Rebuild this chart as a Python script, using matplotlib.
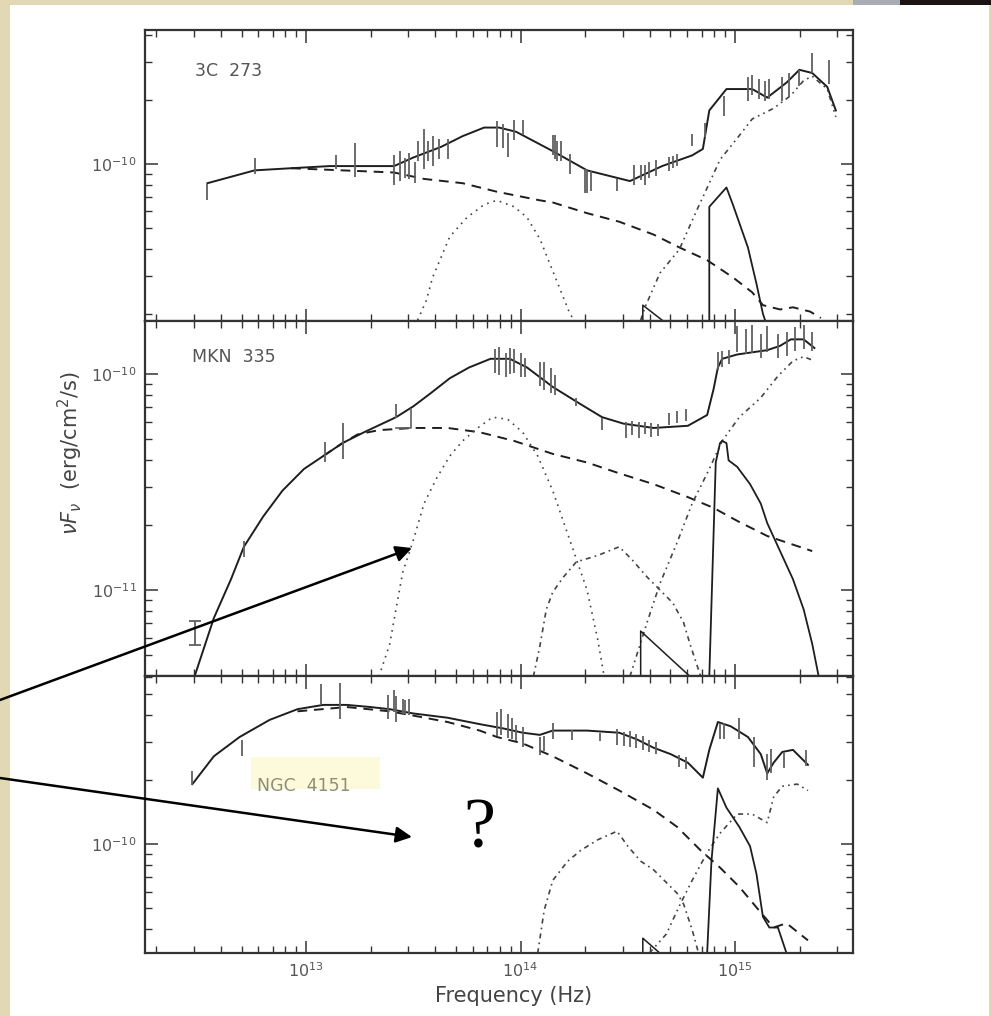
import numpy as np
import matplotlib.pyplot as plt
from matplotlib.patches import Rectangle, FancyArrowPatch
from matplotlib.ticker import FixedLocator, NullFormatter

plt.rcParams['mathtext.default'] = 'regular'

# all values are log10(nu / Hz) and log10(nuF_nu / erg cm^-2 s^-1)

# ---- 3C 273 ----
tot_x1 = [12.54, 12.76, 12.93, 13.11, 13.41, 13.50, 13.63, 13.73, 13.83, 13.90, 13.98, 14.15, 14.31,
          14.51, 14.66, 14.80, 14.85, 14.88, 14.96, 15.08, 15.15, 15.24, 15.30, 15.36, 15.43, 15.47]
tot_y1 = [-10.09, -10.03, -10.02, -10.01, -10.01, -9.97, -9.92, -9.87, -9.83, -9.83, -9.85, -9.94, -10.03,
          -10.08, -10.01, -9.96, -9.93, -9.75, -9.65, -9.65, -9.69, -9.62, -9.56, -9.575, -9.64, -9.75]
dash_x1 = [12.93, 13.41, 13.55, 13.73, 13.89, 14.09, 14.15, 14.31, 14.46, 14.62, 14.74, 14.87, 14.99,
           15.08, 15.13, 15.21, 15.27, 15.35, 15.40]
dash_y1 = [-10.02, -10.04, -10.07, -10.09, -10.13, -10.17, -10.18, -10.23, -10.27, -10.33, -10.39, -10.45,
           -10.53, -10.60, -10.66, -10.68, -10.67, -10.69, -10.72]
dot_x1 = [13.52, 13.56, 13.59, 13.67, 13.75, 13.83, 13.89, 13.97, 14.03, 14.09, 14.15, 14.23, 14.25]
dot_y1 = [-10.73, -10.64, -10.53, -10.34, -10.25, -10.19, -10.17, -10.20, -10.25, -10.35, -10.50, -10.70, -10.73]
dd2_x1 = [14.56, 14.58, 14.65, 14.74, 14.82, 14.88, 14.93, 15.01, 15.08, 15.18, 15.26, 15.32, 15.36, 15.43, 15.47]
dd2_y1 = [-10.73, -10.67, -10.51, -10.40, -10.22, -10.09, -9.98, -9.88, -9.79, -9.74, -9.68, -9.61, -9.59,
          -9.65, -9.78]
bal_x1 = [14.88, 14.88, 14.96, 14.99, 15.06, 15.10, 15.13, 15.14]
bal_y1 = [-10.73, -10.20, -10.11, -10.19, -10.39, -10.56, -10.70, -10.73]
tri_x1 = [14.57, 14.57, 14.66]
tri_y1 = [-10.73, -10.66, -10.73]
pt_x1 = [12.54, 12.76, 13.14, 13.23, 13.41, 13.44, 13.46, 13.48, 13.51, 13.52, 13.55, 13.57, 13.59, 13.62,
         13.66, 13.89, 13.92, 13.94, 13.97, 14.01, 14.15, 14.16, 14.17, 14.19, 14.23, 14.30, 14.31, 14.33,
         14.45, 14.53, 14.56, 14.58, 14.60, 14.63, 14.69, 14.71, 14.73, 14.80, 14.86, 14.95, 15.06, 15.08,
         15.11, 15.14, 15.16, 15.22, 15.25, 15.30, 15.36, 15.44]
pt_y1 = [-10.13, -10.01, -9.99, -9.98, -10.03, -10.01, -10.02, -10.01, -10.04, -9.94, -9.93, -9.94, -9.94,
         -9.93, -9.93, -9.86, -9.87, -9.91, -9.84, -9.83, -9.91, -9.92, -9.94, -9.94, -10.00, -10.08, -10.08,
         -10.08, -10.10, -10.05, -10.04, -10.05, -10.03, -10.02, -10.00, -9.99, -9.98, -9.89, -9.84, -9.73,
         -9.65, -9.63, -9.65, -9.66, -9.65, -9.65, -9.63, -9.60, -9.53, -9.57]
pt_e1 = [0.037, 0.037, 0.033, 0.079, 0.070, 0.070, 0.047, 0.061, 0.047, 0.047, 0.093, 0.047, 0.070, 0.047,
         0.047, 0.061, 0.056, 0.056, 0.047, 0.037, 0.047, 0.056, 0.047, 0.047, 0.047, 0.056, 0.056, 0.047,
         0.028, 0.047, 0.037, 0.047, 0.037, 0.037, 0.033, 0.028, 0.028, 0.028, 0.033, 0.047, 0.056, 0.047,
         0.047, 0.047, 0.047, 0.056, 0.056, 0.037, 0.047, 0.056]

# ---- MKN 335 ----
tot_x2 = [12.48, 12.57, 12.65, 12.71, 12.80, 12.89, 12.99, 13.08, 13.17, 13.27, 13.42, 13.50, 13.58, 13.67,
          13.76, 13.86, 13.95, 14.03, 14.15, 14.28, 14.38, 14.48, 14.62, 14.78, 14.87, 14.90, 14.92, 14.94,
          15.01, 15.15, 15.21, 15.26, 15.32, 15.37]
tot_y2 = [-11.40, -11.13, -10.95, -10.80, -10.66, -10.54, -10.44, -10.38, -10.32, -10.27, -10.20, -10.15,
          -10.09, -10.02, -9.97, -9.93, -9.93, -9.97, -10.06, -10.14, -10.20, -10.23, -10.25, -10.24, -10.19,
          -10.07, -9.97, -9.93, -9.91, -9.89, -9.87, -9.84, -9.84, -9.88]
dash_x2 = [13.08, 13.17, 13.24, 13.34, 13.50, 13.66, 13.81, 13.97, 14.00, 14.15, 14.31, 14.46, 14.62, 14.78,
           14.90, 15.01, 15.15, 15.36]
dash_y2 = [-10.38, -10.32, -10.28, -10.26, -10.25, -10.25, -10.27, -10.31, -10.32, -10.37, -10.41, -10.46,
           -10.51, -10.57, -10.62, -10.68, -10.75, -10.82]
dot_x2 = [13.34, 13.39, 13.45, 13.50, 13.55, 13.61, 13.67, 13.73, 13.80, 13.87, 13.94, 14.01, 14.08, 14.15,
          14.23, 14.31, 14.36, 14.39]
dot_y2 = [-11.40, -11.25, -10.92, -10.77, -10.60, -10.48, -10.38, -10.31, -10.25, -10.20, -10.21, -10.27,
          -10.38, -10.54, -10.77, -11.00, -11.23, -11.40]
dd1_x2 = [14.06, 14.09, 14.12, 14.15, 14.20, 14.26, 14.36, 14.46, 14.52, 14.59, 14.65, 14.71, 14.76, 14.79, 14.84]
dd1_y2 = [-11.40, -11.26, -11.09, -11.01, -10.94, -10.87, -10.84, -10.80, -10.86, -10.94, -11.00, -11.06,
          -11.15, -11.25, -11.40]
dd2_x2 = [14.51, 14.59, 14.65, 14.73, 14.80, 14.88, 14.94, 15.02, 15.12, 15.20, 15.27, 15.32, 15.37]
dd2_y2 = [-11.40, -11.15, -10.97, -10.78, -10.60, -10.44, -10.31, -10.20, -10.11, -10.01, -9.94, -9.92, -9.94]
bal_x2 = [14.88, 14.91, 14.93, 14.94, 14.96, 14.97, 15.01, 15.07, 15.12, 15.15, 15.21, 15.27, 15.32, 15.36, 15.39]
bal_y2 = [-11.40, -10.41, -10.32, -10.31, -10.32, -10.40, -10.43, -10.51, -10.60, -10.69, -10.82, -10.95,
          -11.09, -11.25, -11.40]
tri_x2 = [14.56, 14.56, 14.79]
tri_y2 = [-11.40, -11.19, -11.40]
brk_x2 = [13.42, 13.49, 13.49]
brk_y2 = [-10.25, -10.25, -10.16]
cap_x2 = [12.48]
cap_y2 = [-11.20]
cap_e2 = [0.056]
pt_x2 = [12.71, 13.09, 13.17, 13.42, 13.88, 13.90, 13.93, 13.95, 13.97, 14.00, 14.02, 14.09, 14.11, 14.14,
         14.16, 14.26, 14.38, 14.49, 14.52, 14.55, 14.58, 14.61, 14.64, 14.69, 14.73, 14.77, 14.92, 14.94,
         14.97, 15.01, 15.05, 15.08, 15.12, 15.15, 15.20, 15.24, 15.28, 15.32, 15.36]
pt_y2 = [-10.81, -10.36, -10.31, -10.17, -9.94, -9.94, -9.96, -9.94, -9.94, -9.96, -9.97, -10.00, -10.01,
         -10.03, -10.05, -10.13, -10.23, -10.26, -10.25, -10.26, -10.25, -10.26, -10.26, -10.21, -10.20,
         -10.19, -9.94, -9.93, -9.92, -9.84, -9.85, -9.84, -9.87, -9.84, -9.87, -9.86, -9.84, -9.83, -9.85]
pt_e2 = [0.037, 0.046, 0.083, 0.032, 0.056, 0.065, 0.056, 0.060, 0.056, 0.056, 0.046, 0.056, 0.065, 0.056,
         0.046, 0.019, 0.028, 0.037, 0.032, 0.037, 0.028, 0.032, 0.028, 0.028, 0.028, 0.028, 0.042, 0.037,
         0.032, 0.060, 0.056, 0.065, 0.056, 0.060, 0.056, 0.056, 0.056, 0.056, 0.046]

# ---- NGC 4151 ----
tot_x3 = [12.47, 12.57, 12.69, 12.83, 12.96, 13.08, 13.19, 13.30, 13.39, 13.50, 13.66, 13.81, 13.92, 14.01,
          14.09, 14.15, 14.31, 14.46, 14.54, 14.62, 14.70, 14.78, 14.80, 14.85, 14.88, 14.92, 14.98, 15.06,
          15.12, 15.15, 15.18, 15.22, 15.27, 15.34]
tot_y3 = [-9.72, -9.59, -9.50, -9.42, -9.37, -9.35, -9.35, -9.36, -9.37, -9.39, -9.41, -9.44, -9.46, -9.48,
          -9.49, -9.47, -9.47, -9.48, -9.51, -9.55, -9.58, -9.62, -9.64, -9.69, -9.56, -9.43, -9.45, -9.50,
          -9.58, -9.67, -9.62, -9.57, -9.56, -9.63]
dash_x3 = [12.96, 13.19, 13.39, 13.50, 13.66, 13.81, 13.89, 14.01, 14.08, 14.15, 14.31, 14.46, 14.62, 14.73,
           14.84, 14.93, 15.02, 15.12, 15.18, 15.24, 15.34]
dash_y3 = [-9.38, -9.36, -9.38, -9.40, -9.43, -9.47, -9.50, -9.53, -9.56, -9.59, -9.67, -9.75, -9.84, -9.92,
           -10.03, -10.11, -10.20, -10.32, -10.39, -10.37, -10.45]
dd1_x3 = [14.08, 14.11, 14.15, 14.22, 14.28, 14.36, 14.45, 14.50, 14.56, 14.62, 14.68, 14.73, 14.76, 14.78,
          14.80, 14.83]
dd1_y3 = [-10.51, -10.31, -10.17, -10.08, -10.03, -9.98, -9.94, -10.01, -10.08, -10.12, -10.18, -10.23,
          -10.28, -10.34, -10.40, -10.51]
dd2_x3 = [14.60, 14.68, 14.74, 14.80, 14.87, 14.93, 15.01, 15.08, 15.15, 15.18, 15.22, 15.29, 15.34]
dd2_y3 = [-10.51, -10.42, -10.29, -10.17, -10.04, -9.95, -9.86, -9.86, -9.90, -9.78, -9.73, -9.72, -9.75]
bal_x3 = [14.87, 14.89, 14.92, 14.96, 15.02, 15.07, 15.10, 15.13, 15.16, 15.20, 15.22, 15.24]
bal_y3 = [-10.51, -10.08, -9.74, -9.83, -9.92, -10.01, -10.14, -10.34, -10.39, -10.39, -10.45, -10.51]
tri_x3 = [14.57, 14.57, 14.65]
tri_y3 = [-10.51, -10.44, -10.51]
pt_x3 = [12.47, 12.70, 13.07, 13.16, 13.38, 13.41, 13.42, 13.45, 13.46, 13.48, 13.89, 13.91, 13.94, 13.96,
         13.98, 14.01, 14.09, 14.11, 14.15, 14.24, 14.37, 14.45, 14.48, 14.51, 14.54, 14.57, 14.60, 14.63,
         14.74, 14.77, 14.93, 14.95, 15.02, 15.09, 15.15, 15.17, 15.23, 15.33]
pt_y3 = [-9.69, -9.55, -9.30, -9.33, -9.36, -9.33, -9.37, -9.36, -9.36, -9.36, -9.44, -9.43, -9.45, -9.46,
         -9.48, -9.50, -9.54, -9.53, -9.47, -9.49, -9.50, -9.50, -9.51, -9.51, -9.52, -9.53, -9.54, -9.55,
         -9.61, -9.62, -9.47, -9.47, -9.46, -9.57, -9.64, -9.61, -9.61, -9.60]
pt_e3 = [0.033, 0.037, 0.047, 0.084, 0.056, 0.051, 0.061, 0.037, 0.033, 0.037, 0.056, 0.061, 0.056, 0.047,
         0.037, 0.047, 0.042, 0.037, 0.037, 0.023, 0.019, 0.037, 0.033, 0.037, 0.033, 0.033, 0.028, 0.028,
         0.028, 0.028, 0.037, 0.037, 0.051, 0.070, 0.061, 0.056, 0.033, 0.037]

names = ['3C  273', 'MKN  335', 'NGC  4151']
x_limits = (12.249, 15.55)
y_limits = [(-10.734, -9.374), (-11.398, -9.755), (-10.509, -9.215)]

# ---------------------------------------------------------------
W, H = 991, 1016
fig = plt.figure(figsize=(W / 100, H / 100), dpi=100)
fig.patch.set_facecolor('#e2d9b4')


def fx(px):
    return px / W


def fy(py):
    return 1 - py / H


def log_ticks(lo, hi):
    # decade ticks and 2..9 minor ticks that fall inside [lo, hi] (log10 units)
    major, minor = [], []
    for k in range(int(np.floor(lo)) - 1, int(np.ceil(hi)) + 1):
        if lo <= k <= hi:
            major.append(10.0 ** k)
        for m in range(2, 10):
            v = k + np.log10(m)
            if lo <= v <= hi:
                minor.append(m * 10.0 ** k)
    return major, minor


fig.add_artist(Rectangle((fx(10), 0), fx(989) - fx(10), fy(5), transform=fig.transFigure,
                         facecolor='white', edgecolor='none', zorder=-10))
fig.add_artist(Rectangle((fx(853), fy(5)), fx(900) - fx(853), 5 / H, transform=fig.transFigure,
                         facecolor='#a9adb3', edgecolor='none', zorder=-10))
fig.add_artist(Rectangle((fx(900), fy(5)), fx(991) - fx(900), 5 / H, transform=fig.transFigure,
                         facecolor='#1c1414', edgecolor='none', zorder=-10))

INK = '#1e1e1e'
BAR = '#606060'


def curve(ax, lx, ly, ls='-', lw=1.4, color=INK):
    ax.plot(10 ** np.array(lx), 10 ** np.array(ly), ls=ls, lw=lw, color=color)


def bars(ax, lx, ly, le):
    x = 10 ** np.array(lx)
    y = np.array(ly)
    e = np.array(le)
    ax.vlines(x, 10 ** (y - e), 10 ** (y + e), color=BAR, lw=1.3)


rows = [(30, 321), (321, 676), (676, 953)]
axes = []
xmaj, xmin = log_ticks(*x_limits)
for i, (top, bot) in enumerate(rows):
    ax = fig.add_axes([fx(145), fy(bot), fx(853) - fx(145), (bot - top) / H])
    ax.set_xscale('log')
    ax.set_yscale('log')
    ax.set_xlim(10 ** x_limits[0], 10 ** x_limits[1])
    ax.set_ylim(10 ** y_limits[i][0], 10 ** y_limits[i][1])
    ymaj, ymin = log_ticks(*y_limits[i])
    ax.xaxis.set_major_locator(FixedLocator(xmaj))
    ax.xaxis.set_minor_locator(FixedLocator(xmin))
    ax.yaxis.set_major_locator(FixedLocator(ymaj))
    ax.yaxis.set_minor_locator(FixedLocator(ymin))
    ax.xaxis.set_minor_formatter(NullFormatter())
    ax.yaxis.set_minor_formatter(NullFormatter())
    ax.tick_params(which='both', direction='in', top=True, right=True, color='#333333',
                   labelcolor='#555555', labelsize=11.5)
    ax.tick_params(which='major', length=9, width=1.1, pad=6)
    ax.tick_params(which='minor', length=5, width=1.0)
    if i < 2:
        ax.tick_params(labelbottom=False)
    for s in ax.spines.values():
        s.set_linewidth(1.6)
        s.set_color('#333333')
    axes.append(ax)

ax1, ax2, ax3 = axes

# 3C 273
curve(ax1, tot_x1, tot_y1)
curve(ax1, dash_x1, dash_y1, ls=(0, (5, 3.5)))
curve(ax1, dot_x1, dot_y1, ls=(0, (1, 3)), lw=1.2, color='#444444')
curve(ax1, dd2_x1, dd2_y1, ls=(0, (3, 2.5, 1, 2.5, 1, 2.5)), lw=1.2, color='#444444')
curve(ax1, bal_x1, bal_y1, lw=1.3)
curve(ax1, tri_x1, tri_y1, lw=1.1)
bars(ax1, pt_x1, pt_y1, pt_e1)

# MKN 335
curve(ax2, tot_x2, tot_y2)
curve(ax2, dash_x2, dash_y2, ls=(0, (5, 3.5)))
curve(ax2, dot_x2, dot_y2, ls=(0, (1, 3)), lw=1.2, color='#444444')
curve(ax2, dd1_x2, dd1_y2, ls=(0, (3, 2.5, 1, 2.5)), lw=1.2, color='#444444')
curve(ax2, dd2_x2, dd2_y2, ls=(0, (3, 2.5, 1, 2.5, 1, 2.5)), lw=1.2, color='#444444')
curve(ax2, bal_x2, bal_y2, lw=1.3)
curve(ax2, tri_x2, tri_y2, lw=1.1)
curve(ax2, brk_x2, brk_y2, lw=1.2, color=BAR)
bars(ax2, pt_x2, pt_y2, pt_e2)
cy = np.array(cap_y2)
ce = np.array(cap_e2)
ax2.errorbar(10 ** np.array(cap_x2), 10 ** cy,
             yerr=[10 ** cy - 10 ** (cy - ce), 10 ** (cy + ce) - 10 ** cy],
             fmt='none', ecolor=BAR, elinewidth=1.3, capsize=4, capthick=1.3)

# NGC 4151
curve(ax3, tot_x3, tot_y3)
curve(ax3, dash_x3, dash_y3, ls=(0, (5, 3.5)))
curve(ax3, dd1_x3, dd1_y3, ls=(0, (3, 2.5, 1, 2.5)), lw=1.2, color='#444444')
curve(ax3, dd2_x3, dd2_y3, ls=(0, (3, 2.5, 1, 2.5, 1, 2.5)), lw=1.2, color='#444444')
curve(ax3, bal_x3, bal_y3, lw=1.3)
curve(ax3, tri_x3, tri_y3, lw=1.1)
bars(ax3, pt_x3, pt_y3, pt_e3)

# labels
fig.text(fx(195), fy(71), names[0], fontsize=12.5, color='#555555', va='center', ha='left')
fig.text(fx(192), fy(357), names[1], fontsize=12.5, color='#555555', va='center', ha='left')
fig.add_artist(Rectangle((fx(251), fy(789)), fx(380) - fx(251), 32 / H, transform=fig.transFigure,
                         facecolor='#fcfadb', edgecolor='none', zorder=3))
fig.text(fx(257), fy(786), names[2], fontsize=12.5, color='#8e8e76', va='center', ha='left', zorder=4)

fig.text(fx(70), fy(453), r'$\mathit{\nu F_\nu}$  (erg/cm$^2$/s)', rotation=90, fontsize=15,
         color='#444444', ha='center', va='center')
fig.text(fx(514), fy(996), 'Frequency (Hz)', fontsize=15, color='#444444', ha='center', va='center')

fig.text(fx(479), fy(830), '?', fontsize=52, family='Liberation Serif', color='black',
         ha='center', va='center', zorder=5)

for (x0, y0), (x1, y1) in [((0, 700), (412, 548)), ((0, 778), (412, 837))]:
    fig.add_artist(FancyArrowPatch((fx(x0), fy(y0)), (fx(x1), fy(y1)), transform=fig.transFigure,
                                   arrowstyle='-|>', mutation_scale=24, lw=1.8, color='black',
                                   shrinkA=0, shrinkB=0, zorder=6))

fig.savefig('out.png', dpi=100, facecolor=fig.get_facecolor())
